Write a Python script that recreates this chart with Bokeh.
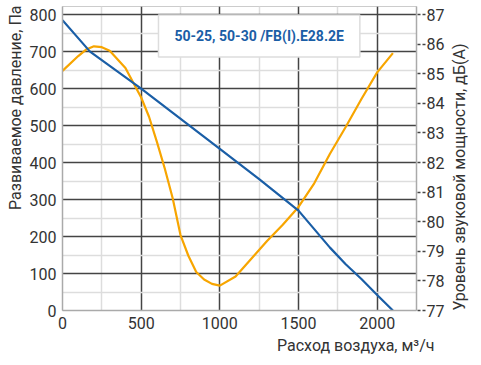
import math
from bokeh.plotting import figure
from bokeh.models import Range1d, LinearAxis, FixedTicker, Label, Title
from bokeh.embed import file_html
from bokeh.resources import INLINE

# --- data ---
flow_p = [0, 175, 500, 1000, 1250, 1500, 1600, 1700, 1800, 1900, 2000, 2100]
pressure = [785, 700, 600, 437, 355, 270, 220, 170, 125, 85, 42, 0]

flow_n = [0, 100, 150, 200, 250, 300, 400, 500, 550, 600, 650, 700, 750, 800,
          850, 900, 950, 1000, 1100, 1200, 1300, 1400, 1500, 1600, 1700, 1800,
          1900, 2000, 2100]
noise = [85.1, 85.6, 85.82, 85.93, 85.9, 85.78, 85.2, 84.2, 83.55, 82.7, 81.8,
         80.8, 79.55, 78.85, 78.3, 78.05, 77.9, 77.84, 78.15, 78.75, 79.35,
         79.9, 80.5, 81.3, 82.3, 83.2, 84.15, 85.05, 85.7]

x_ticks = [0, 500, 1000, 1500, 2000]
x_minor = [250, 750, 1250, 1750, 2250]
y_ticks = [0, 100, 200, 300, 400, 500, 600, 700, 800]
y_minor = [50, 150, 250, 350, 450, 550, 650, 750]
db_ticks = [77, 78, 79, 80, 81, 82, 83, 84, 85, 86, 87]

title_text = "50-25, 50-30 /FB(I).E28.2E"
x_title = "Расход воздуха, м³/ч"
y_title = "Развиваемое давление, Па"
y2_title = "Уровень звуковой мощности, дБ(А)"

FONT = "Roboto"
TXT = "#333333"
BLUE = "#1a5ea6"
ORANGE = "#f7a500"

y_top = 822
p = figure(width=481, height=362, output_backend="svg", toolbar_location=None,
           x_range=Range1d(0, 2250), y_range=Range1d(0, y_top),
           min_border_top=6, min_border_left=62, min_border_right=59,
           min_border_bottom=52)
p.extra_y_ranges = {"db": Range1d(77, 77 + y_top / 80)}
p.outline_line_color = "#cccccc"
p.background_fill_color = "white"

# grids
p.xaxis.ticker = FixedTicker(ticks=x_ticks, minor_ticks=x_minor)
p.yaxis.ticker = FixedTicker(ticks=y_ticks, minor_ticks=y_minor)
for g in (p.xgrid[0], p.ygrid[0]):
    g.grid_line_color = "#444444"
    g.grid_line_width = 1.5
    g.minor_grid_line_color = "#dddddd"
    g.minor_grid_line_width = 1.5

rax = LinearAxis(y_range_name="db", ticker=FixedTicker(ticks=db_ticks))
p.add_layout(rax, "right")

for ax in (p.xaxis[0], p.yaxis[0], rax):
    ax.minor_tick_line_color = None
    ax.minor_tick_out = 0
    ax.axis_line_color = "#aaaaaa"
    ax.axis_line_width = 1.5
    ax.major_label_text_font = FONT
    ax.major_label_text_font_size = "16px"
    ax.major_label_text_color = TXT
    ax.axis_label_text_font = FONT
    ax.axis_label_text_font_size = "16px"
    ax.axis_label_text_font_style = "normal"
    ax.axis_label_text_color = TXT

for ax in (p.xaxis[0], p.yaxis[0]):
    ax.major_tick_line_color = None
    ax.major_tick_out = 0
    ax.major_tick_in = 0
    ax.major_label_standoff = 6

rax.axis_label = y2_title
rax.axis_label_orientation = math.pi / 2
rax.axis_label_align = "start"
rax.major_tick_out = 9
rax.major_tick_in = 0
rax.major_tick_line_dash = "3 2"
rax.major_tick_line_color = "#444444"
rax.major_tick_line_width = 1.5
rax.major_label_standoff = 1
rax.axis_label_standoff = 12

# axis titles for x and left y, end-aligned like the reference
title_style = dict(text_font=FONT, text_font_size="16px",
                   text_font_style="normal", text_color=TXT)
p.add_layout(Title(text=x_title, align="right", offset=-18, standoff=4,
                   **title_style), "below")
p.add_layout(Title(text=y_title, align="right", offset=-1, standoff=4,
                   **title_style), "left")

p.line(flow_n, noise, y_range_name="db", line_color=ORANGE, line_width=2.2)
p.line(flow_p, pressure, line_color=BLUE, line_width=2.2)

lbl = Label(x=1250, y=742, text=title_text, text_align="center",
            text_baseline="middle", text_font=FONT, text_font_style="bold",
            text_font_size="14px", text_color=BLUE,
            background_fill_color="white", border_line_color="#dddddd",
            border_line_width=1.5,
            padding=dict(left=16, right=16, top=13, bottom=13))
p.add_layout(lbl)

open("out.html", "w").write(file_html(p, INLINE))
